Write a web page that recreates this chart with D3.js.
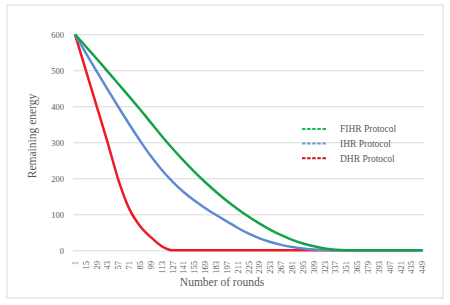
<!DOCTYPE html>
<html>
<head>
<meta charset="utf-8">
<script src="https://cdn.jsdelivr.net/npm/d3@7"></script>
<style>
  body { margin: 0; background: #fff; }
  svg text { font-family: "Liberation Serif", "Times New Roman", serif; fill: #595959; }
</style>
</head>
<body>
<div class="chart"></div>
<script>
// rounds sampled every 14 (same as tick labels)
const rounds = [1, 15, 29, 43, 57, 71, 85, 99, 113, 127, 141, 155, 169, 183, 197, 211, 225,
    239, 253, 267, 281, 295, 309, 323, 337, 351, 365, 379, 393, 407, 421, 435, 449];
const fihr = [600, 566, 532, 497, 462, 427, 391, 354, 317, 282, 249, 218, 189, 162, 137, 114, 93,
    74, 57, 42, 29, 19, 11, 5, 1.5, 0.3, 0, 0, 0, 0, 0, 0, 0];
const ihr = [600, 548, 497, 447, 398, 350, 304, 261, 223, 190, 162, 138, 117, 98, 80, 62, 46,
    33, 23, 15, 9, 5, 2, 0.7, 0, 0, 0, 0, 0, 0, 0, 0, 0];
const dhr = [600, 500, 400, 300, 195, 115, 67, 36, 11, 0, 0, 0, 0, 0, 0, 0, 0,
    0, 0, 0, 0, 0, 0, 0, 0, 0, 0, 0, 0, 0, 0, 0, 0];
const yTicks = [0, 100, 200, 300, 400, 500, 600];
const seriesNames = ['FIHR Protocol', 'IHR Protocol', 'DHR Protocol'];

const lineColors = ['#13a24a', '#5b8bd3', '#ec1c24'];
const legendColors = ['#1bb85a', '#6a9bd2', '#c3161d'];

const width = 450, height = 305;
const svg = d3.select('.chart').append('svg')
    .attr('width', width).attr('height', height);

// outer frame
svg.append('rect').attr('x', 7).attr('y', 5).attr('width', 436).attr('height', 293)
    .attr('fill', '#fff').attr('stroke', '#d9d9d9').attr('stroke-width', 1);

const x = d3.scaleLinear().domain([1, 449]).range([75, 422.5]);
const y = d3.scaleLinear().domain([0, 600]).range([250.3, 34.3]);

// gridlines + y labels
const yAxis = d3.axisLeft(y).tickValues(yTicks).tickSize(0).tickPadding(10);
const yG = svg.append('g').attr('transform', 'translate(73,0)').call(yAxis);
yG.select('.domain').remove();
yG.selectAll('.tick line').attr('x2', 351).attr('stroke', '#d9d9d9').attr('stroke-width', 1);
yG.selectAll('.tick text').style('font-size', '8.5px').attr('x', -9);

// x tick labels (rotated)
const xG = svg.append('g');
xG.selectAll('text').data(rounds).join('text')
    .attr('transform', d => `translate(${x(d)},261) rotate(-90)`)
    .attr('text-anchor', 'end').attr('dy', '0.33em')
    .style('font-size', '8.5px')
    .text(d => d);

// lines
const data = [fihr, ihr, dhr];
const line = d3.line()
    .x((d, i) => x(rounds[i]))
    .y(d => y(d))
    .curve(d3.curveMonotoneX);

// draw DHR first so the others sit on top, like the original
[2, 1, 0].forEach(k => {
    svg.append('path').datum(data[k])
        .attr('d', line)
        .attr('fill', 'none')
        .attr('stroke', lineColors[k])
        .attr('stroke-width', 2.5)
        .attr('stroke-linejoin', 'round');
});

// legend
const legend = svg.append('g');
seriesNames.forEach((name, i) => {
    const ly = 129 + i * 14.6;
    legend.append('line')
        .attr('x1', 302).attr('x2', 327).attr('y1', ly).attr('y2', ly)
        .attr('stroke', legendColors[i]).attr('stroke-width', 2)
        .attr('stroke-dasharray', '3.5,1.6');
    legend.append('text')
        .attr('x', 340).attr('y', ly).attr('dy', '0.35em')
        .style('font-size', '9.5px')
        .text(name);
});

// axis titles
svg.append('text')
    .attr('transform', 'translate(36,136) rotate(-90)')
    .attr('text-anchor', 'middle')
    .style('font-size', '11.5px')
    .text('Remaining energy');
svg.append('text')
    .attr('x', 222).attr('y', 286)
    .attr('text-anchor', 'middle')
    .style('font-size', '11.5px')
    .text('Number of rounds');
</script>
</body>
</html>
